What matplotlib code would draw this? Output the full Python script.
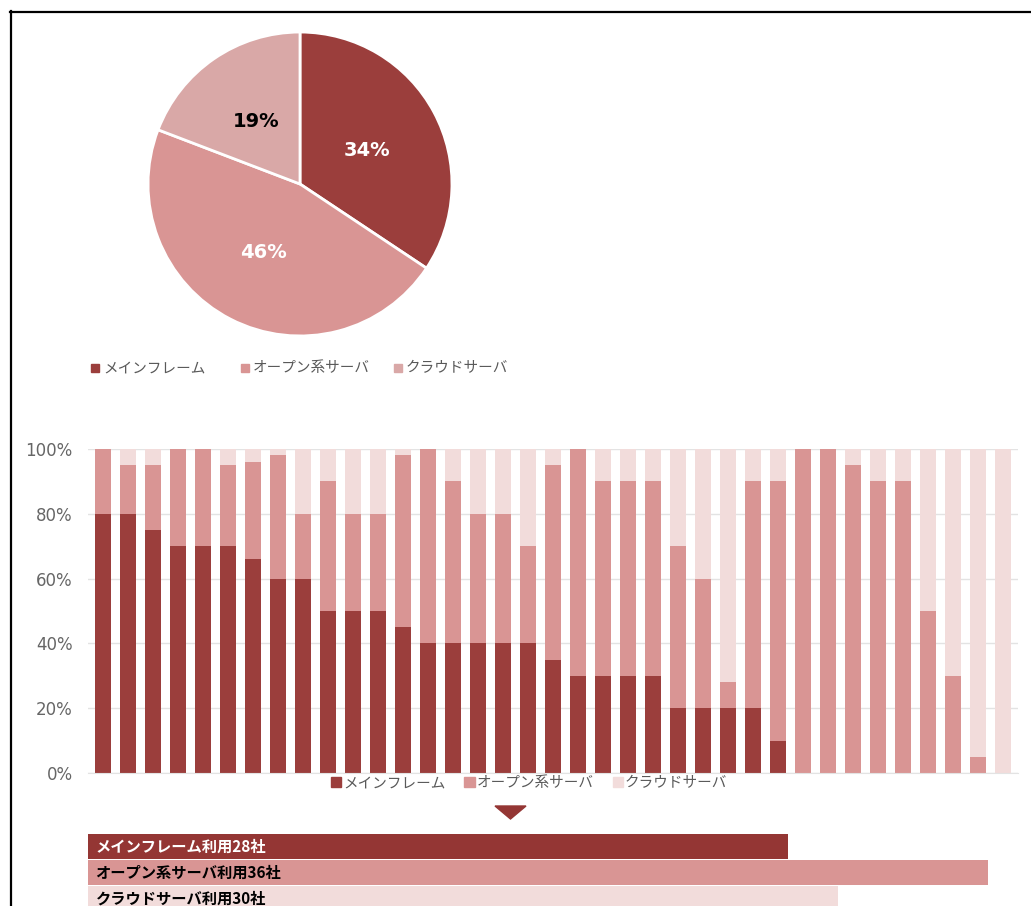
import numpy as np
import matplotlib
matplotlib.use('Agg')
import matplotlib.pyplot as plt
from matplotlib.patches import Polygon, Patch
from matplotlib.lines import Line2D

plt.rcParams['font.family'] = ['Noto Sans CJK JP', 'DejaVu Sans']

series = ['メインフレーム', 'オープン系サーバ', 'クラウドサーバ']
pie_share = [34, 46, 19]

mainframe = [80, 80, 75, 70, 70, 70, 66, 60, 60, 50, 50, 50, 45, 40, 40, 40, 40, 40, 35,
             30, 30, 30, 30, 20, 20, 20, 20, 10, 0, 0, 0, 0, 0, 0, 0, 0, 0]
open_sys = [20, 15, 20, 30, 30, 25, 30, 38, 20, 40, 30, 30, 53, 60, 50, 40, 40, 30, 60,
            70, 60, 60, 60, 50, 40, 8, 70, 80, 100, 100, 95, 90, 90, 50, 30, 5, 0]
cloud = [0, 5, 5, 0, 0, 5, 4, 2, 20, 10, 20, 20, 2, 0, 10, 20, 20, 30, 5,
         0, 10, 10, 10, 30, 40, 72, 10, 10, 0, 0, 5, 10, 10, 50, 70, 95, 100]

usage_labels = ['メインフレーム利用28社', 'オープン系サーバ利用36社', 'クラウドサーバ利用30社']
usage_counts = [28, 36, 30]

c_main = '#9B3E3C'
c_open = '#D99594'
c_cloud_pie = '#D9A8A7'
c_cloud = '#F2DCDB'
c_main_box = '#943634'
gray = '#595959'

W, H = 1031, 906
fig = plt.figure(figsize=(W / 100, H / 100), dpi=100)


def fx(px):
    return px / W


def fy(py):
    return 1 - py / H


# pie
ax_pie = fig.add_axes([fx(145), fy(339), fx(310), 310 / H])
wedges, _ = ax_pie.pie(pie_share, colors=[c_main, c_open, c_cloud_pie], startangle=90,
                       counterclock=False, radius=1,
                       wedgeprops=dict(edgecolor='white', linewidth=2))
ax_pie.set_xlim(-1.02, 1.02)
ax_pie.set_ylim(-1.02, 1.02)
ax_pie.set_aspect('equal')
label_pos = [(0.44, 0.22), (-0.24, -0.45), (-0.29, 0.41)]
for i, v in enumerate(pie_share):
    col = 'black' if i == 2 else 'white'
    ax_pie.text(label_pos[i][0], label_pos[i][1], f'{v}%', ha='center', va='center',
                fontsize=14, fontweight='bold', color=col, family='DejaVu Sans')

# pie legend, evenly spaced slots
slot_x = [95, 245, 398]
for sx, name, col in zip(slot_x, series, [c_main, c_open, c_cloud_pie]):
    fig.add_artist(Line2D([fx(sx)], [fy(368)], marker='s', ls='', color=col,
                          markersize=5.5, transform=fig.transFigure))
    fig.text(fx(sx + 8), fy(368), name, ha='left', va='center', fontsize=10.5,
             color=gray)

# stacked bars
ax = fig.add_axes([fx(88), fy(773), fx(930), 324 / H])
x = np.arange(len(mainframe))
m = np.array(mainframe)
o = np.array(open_sys)
c = np.array(cloud)
bw = 0.67
ax.bar(x, m, bw, color=c_main, zorder=2)
ax.bar(x, o, bw, bottom=m, color=c_open, zorder=2)
ax.bar(x, c, bw, bottom=m + o, color=c_cloud, zorder=2)
ax.set_xlim(-0.6, len(x) - 0.4)
ax.set_ylim(0, 100)
ax.set_yticks(range(0, 101, 20))
ax.set_yticklabels([f'{t}%' for t in range(0, 101, 20)], fontsize=12, color='#666666',
                   family='DejaVu Sans')
ax.set_xticks([])
ax.tick_params(axis='y', length=0, pad=11)
ax.grid(axis='y', color='#E3E3E3', linewidth=1, zorder=0)
for s in ['top', 'right', 'left']:
    ax.spines[s].set_visible(False)
ax.spines['bottom'].set_color('#E3E3E3')

bar_handles = [Patch(color=cc) for cc in [c_main, c_open, c_cloud]]
fig.legend(bar_handles, series, loc='center', bbox_to_anchor=(fx(529), fy(783)),
           ncol=3, frameon=False, fontsize=10.5, labelcolor=gray, handletextpad=0.15,
           columnspacing=1.3, handlelength=0.7, handleheight=0.7)

# arrow
fig.patches.append(Polygon([[fx(495), fy(806)], [fx(526), fy(806)], [fx(510.5), fy(819)]],
                           closed=True, transform=fig.transFigure, color=c_main_box))

# usage bars
ax_u = fig.add_axes([fx(88), fy(913), fx(930), 79 / H])
box_cols = [c_main_box, c_open, c_cloud]
text_cols = ['white', 'black', 'black']
ax_u.barh(range(3), usage_counts, height=0.96, color=box_cols, align='edge')
for i, lab in enumerate(usage_labels):
    ax_u.text(0.3, i + 0.48, lab, ha='left', va='center', fontsize=11,
              fontweight='bold', color=text_cols[i])
ax_u.set_xlim(0, 930 / 25)
ax_u.set_ylim(3.04, 0)
ax_u.axis('off')

# frame
fig.add_artist(Line2D([fx(10.5), fx(10.5)], [fy(11), 0], color='black', lw=1.6,
                      transform=fig.transFigure))
fig.add_artist(Line2D([fx(10), 1], [fy(11.5), fy(11.5)], color='black', lw=1.6,
                      transform=fig.transFigure))

fig.savefig('out.png', dpi=100)
